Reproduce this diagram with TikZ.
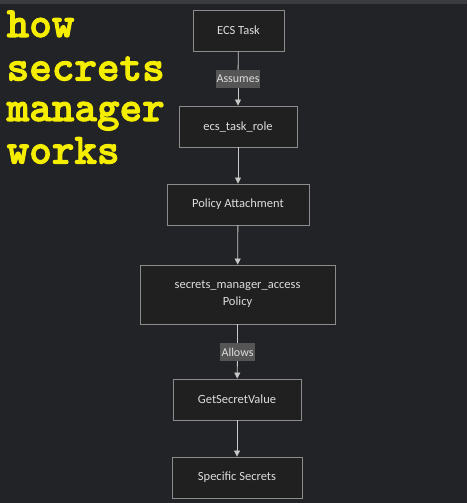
\documentclass[tikz,border=0pt]{standalone}
\usepackage{fontspec}
\setmainfont{Carlito}
\newfontfamily\titlefont{lmmonolt10-bold.otf}
\usetikzlibrary{arrows.meta}

\definecolor{bgcol}{HTML}{222327}
\definecolor{barcol}{HTML}{3B3B3F}
\definecolor{boxfill}{HTML}{1F201F}
\definecolor{boxline}{HTML}{8C8C8C}
\definecolor{edgecol}{HTML}{C8C8C8}
\definecolor{labfill}{HTML}{555555}
\definecolor{txtcol}{HTML}{DDDDDD}
\definecolor{titlecol}{HTML}{F5EE00}

\tikzset{
  stepbox/.style={draw=boxline, fill=boxfill, line width=0.9pt, text=txtcol,
    minimum height=41pt, inner sep=0pt, font=\fontsize{12.5}{17}\selectfont, align=center},
  edgelabel/.style={fill=labfill, text=txtcol, inner sep=0pt, minimum height=18pt,
    font=\fontsize{12}{14}\selectfont},
  flow/.style={draw=edgecol, line width=0.8pt},
  titleline/.style={anchor=base west, inner sep=0pt, text=titlecol,
    font=\titlefont\fontsize{43}{45}\selectfont}
}

\begin{document}
\begin{tikzpicture}[x=1pt, y=-1pt]
  % Background
  \fill[bgcol] (0,0) rectangle (467,503);
  \fill[barcol] (0,0) rectangle (467,4);
  \useasboundingbox (0,0) rectangle (467,503);

  % Title
  \foreach \word/\yy [count=\i] in {how/37, secrets/80.5, manager/121, works/163.5}
    \node[titleline] (title\i) at (6.5,\yy)
      {\special{pdf:literal direct 2 Tr 1 w}\word\special{pdf:literal direct 0 Tr}};

  % Boxes
  \node[stepbox, minimum width=91pt] (task) at (238.5,30.5) {ECS Task};
  \node[stepbox, minimum width=118pt] (role) at (238,126.5) {ecs\_task\_role};
  \node[stepbox, minimum width=142pt] (attach) at (238,204.5) {Policy Attachment};
  \node[stepbox, minimum width=195pt, minimum height=59pt] (policy) at (237.5,294.5)
    {secrets\_manager\_access\\Policy};
  \node[stepbox, minimum width=128pt] (getval) at (237,399.5) {GetSecretValue};
  \node[stepbox, minimum width=130pt] (secrets) at (237,477.5) {Specific Secrets};

  % Edge labels
  \node[edgelabel, minimum width=44pt] (assumes) at (238,79) {Assumes};
  \node[edgelabel, minimum width=35pt] (allows) at (237.5,352) {Allows};

  % Connectors
  \draw[flow] (task) -- (assumes);
  \draw[flow, -{Triangle[length=6pt,width=6pt]}] (assumes) -- (role);
  \draw[flow, -{Triangle[length=6pt,width=6pt]}] (role) -- (attach);
  \draw[flow, -{Triangle[length=6pt,width=6pt]}] (attach) -- (policy);
  \draw[flow] (policy) -- (allows);
  \draw[flow, -{Triangle[length=6pt,width=6pt]}] (allows) -- (getval);
  \draw[flow, -{Triangle[length=6pt,width=6pt]}] (getval) -- (secrets);
\end{tikzpicture}
\end{document}
